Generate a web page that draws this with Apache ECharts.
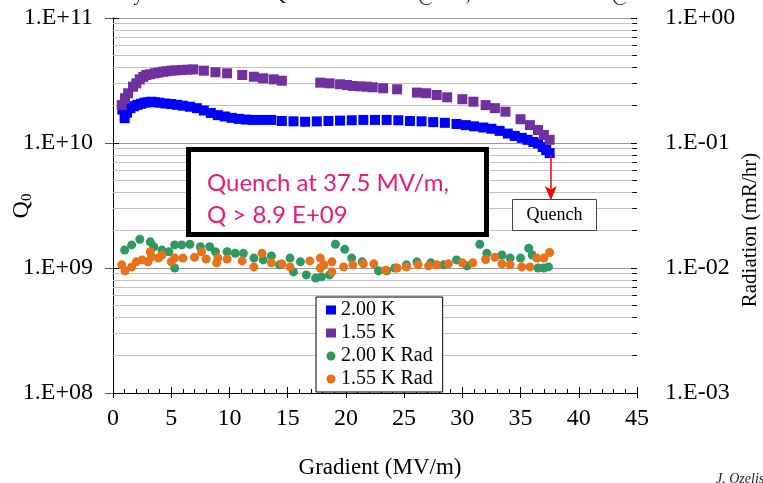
<!DOCTYPE html>
<html><head><meta charset="utf-8">
<script src="https://cdn.jsdelivr.net/npm/echarts@6/dist/echarts.min.js"></script>
<style>html,body{margin:0;padding:0;background:#fff}#c{width:763px;height:483px}</style>
</head><body><div id="c"></div>
<script>
// ---- data ----
const xTickValues = [0,5,10,15,20,25,30,35,40,45];
const leftTickLabels = {8:'1.E+08', 9:'1.E+09', 10:'1.E+10', 11:'1.E+11'};
const rightTickLabels = {'-3':'1.E-03', '-2':'1.E-02', '-1':'1.E-01', '0':'1.E+00'};

const g200 = [0.8,1.0,1.2,1.5,1.8,2.1,2.4,2.7,3.0,3.3,3.6,4.0,4.5,5.0,5.5,6.0,6.6,7.2,7.8,8.4,9.0,9.6,10.2,10.8,11.4,12.0,12.8,13.6,14.5,15.5,16.5,17.5,18.5,19.5,20.5,21.5,22.5,23.5,24.5,25.5,26.5,27.5,28.5,29.5,30.3,31.0,31.8,32.5,33.2,33.9,34.5,35.1,35.6,36.1,36.5,36.9,37.2,37.5];
const q200 = [1.85e10,1.58e10,1.75e10,1.90e10,1.97e10,2.02e10,2.06e10,2.10e10,2.12e10,2.14e10,2.12e10,2.10e10,2.07e10,2.05e10,2.02e10,1.99e10,1.95e10,1.90e10,1.82e10,1.74e10,1.67e10,1.63e10,1.59e10,1.56e10,1.54e10,1.53e10,1.53e10,1.53e10,1.50e10,1.49e10,1.48e10,1.49e10,1.50e10,1.51e10,1.52e10,1.53e10,1.53e10,1.53e10,1.52e10,1.50e10,1.49e10,1.47e10,1.45e10,1.42e10,1.39e10,1.36e10,1.33e10,1.30e10,1.25e10,1.19e10,1.14e10,1.10e10,1.06e10,1.02e10,0.99e10,0.93e10,0.88e10,0.83e10];

const g155 = [0.75,1.03,1.3,1.72,2.0,2.3,2.6,2.86,3.2,3.58,3.9,4.3,4.6,5.0,5.4,5.9,6.4,6.9,7.8,8.8,9.8,11.1,12.1,12.9,13.8,14.5,17.8,18.6,19.5,20.1,20.6,21.2,21.8,22.3,23.2,24.4,26.1,26.9,27.8,28.7,30.0,30.95,32.0,32.8,33.7,35.0,35.8,36.5,37.0,37.5];
const q155 = [2.01e10,2.28e10,2.50e10,2.82e10,3.00e10,3.23e10,3.38e10,3.50e10,3.55e10,3.61e10,3.66e10,3.72e10,3.75e10,3.79e10,3.81e10,3.84e10,3.86e10,3.88e10,3.79e10,3.68e10,3.61e10,3.50e10,3.39e10,3.29e10,3.23e10,3.15e10,3.04e10,3.00e10,2.95e10,2.91e10,2.86e10,2.84e10,2.82e10,2.79e10,2.74e10,2.69e10,2.53e10,2.50e10,2.42e10,2.32e10,2.24e10,2.14e10,2.01e10,1.90e10,1.78e10,1.55e10,1.39e10,1.27e10,1.16e10,1.06e10];

const g200Rad = [1.0,1.6,2.3,3.2,3.5,4.2,4.8,5.3,5.3,5.9,6.6,7.5,8.3,8.8,9.8,10.5,11.2,12.1,12.9,13.6,14.3,15.2,15.5,16.1,16.6,17.4,17.9,18.6,19.1,19.9,20.5,21.4,22.8,23.5,24.2,25.2,26.1,27.3,28.4,29.5,30.4,31.5,32.1,33.4,34.1,35.0,35.7,36.0,36.5,37.0,37.4];
const r200Rad = [1.39e-2,1.53e-2,1.70e-2,1.62e-2,1.48e-2,1.39e-2,1.35e-2,1.00e-2,1.53e-2,1.53e-2,1.55e-2,1.48e-2,1.48e-2,1.35e-2,1.35e-2,1.31e-2,1.31e-2,1.20e-2,1.16e-2,1.25e-2,1.06e-2,1.20e-2,0.93e-2,1.12e-2,0.88e-2,0.83e-2,0.85e-2,0.88e-2,1.55e-2,1.41e-2,1.20e-2,1.12e-2,0.95e-2,0.95e-2,1.00e-2,1.06e-2,1.12e-2,1.10e-2,1.06e-2,1.16e-2,1.04e-2,1.55e-2,1.31e-2,1.27e-2,1.20e-2,1.20e-2,1.44e-2,1.27e-2,1.00e-2,1.00e-2,1.02e-2];

const g155Rad = [0.75,1.03,1.6,2.0,2.5,3.0,3.2,3.3,3.9,4.2,5.0,5.3,6.0,7.0,7.6,8.0,8.9,9.0,9.8,11.1,12.1,12.8,13.6,14.5,15.2,16.9,17.8,17.8,18.1,18.8,18.8,19.8,20.6,21.5,22.4,23.4,24.4,25.2,26.2,27.1,27.8,28.8,30.0,30.9,32.0,32.8,33.4,34.1,35.1,35.8,36.4,37.0,37.5];
const r155Rad = [1.06e-2,0.95e-2,1.02e-2,1.12e-2,1.16e-2,1.12e-2,1.35e-2,1.23e-2,1.20e-2,1.27e-2,1.12e-2,1.20e-2,1.20e-2,1.22e-2,1.35e-2,1.18e-2,1.10e-2,1.20e-2,1.18e-2,1.14e-2,1.02e-2,1.31e-2,1.10e-2,1.08e-2,1.02e-2,1.14e-2,1.20e-2,1.00e-2,1.06e-2,1.12e-2,0.93e-2,1.02e-2,1.06e-2,1.08e-2,1.08e-2,0.96e-2,1.00e-2,1.02e-2,1.06e-2,1.04e-2,1.06e-2,1.08e-2,1.10e-2,1.10e-2,1.17e-2,1.22e-2,1.08e-2,1.06e-2,1.02e-2,1.02e-2,1.20e-2,1.20e-2,1.33e-2];

const minorGridQ = [2e8,3e8,4e8,5e8,6e8,7e8,8e8,9e8,2e9,3e9,4e9,5e9,6e9,7e9,8e9,9e9,2e10,3e10,4e10,5e10,6e10,7e10,8e10,9e10];
const minorTickR = [2e-3,3e-3,4e-3,5e-3,6e-3,7e-3,8e-3,9e-3,2e-2,3e-2,4e-2,5e-2,6e-2,7e-2,8e-2,9e-2,2e-1,3e-1,4e-1,5e-1,6e-1,7e-1,8e-1,9e-1];
const quenchArrow = [[37.6, 8.0e9],[37.6, 3.5e9]];
const seriesNames = ['2.00 K','1.55 K','2.00 K Rad','1.55 K Rad'];

// ---- chart ----
const pair = (xs, ys) => xs.map((x,i)=>[x, ys[i]]);
const serif = 'Liberation Serif';
const chart = echarts.init(document.getElementById('c'), null, {renderer:'canvas'});
const lg = v => Math.round(Math.log10(v));

chart.setOption({
  animation:false,
  backgroundColor:'#fff',
  grid:{left:113, right:126, top:18, bottom:90, show:false, containLabel:false, outerBoundsMode:'none'},
  legend:{
    orient:'vertical', left:316, top:297,
    backgroundColor:'#fff', borderColor:'#000', borderWidth:1, borderRadius:0,
    padding:[3,10,3,10], itemGap:3, itemWidth:10, itemHeight:9,
    textStyle:{fontFamily:serif, fontSize:20, color:'#000'},
    data:[{name:seriesNames[0], icon:'rect'},{name:seriesNames[1], icon:'rect'},{name:seriesNames[2], icon:'circle'},{name:seriesNames[3], icon:'circle'}]
  },
  xAxis:[
    {type:'value', min:0, max:45, interval:5,
     axisLine:{lineStyle:{color:'#000', width:1}},
     axisTick:{show:true, inside:false, length:5, lineStyle:{color:'#000'}},
     axisLabel:{fontFamily:serif, fontSize:24, color:'#000', margin:14},
     splitLine:{show:false}},
    {type:'value', min:0, max:45, interval:5, position:'bottom',
     axisLine:{show:false}, axisTick:{show:true, inside:true, length:6, lineStyle:{color:'#000'}},
     minorTick:{show:true, splitNumber:5, length:4, lineStyle:{color:'#000'}},
     axisLabel:{show:false}, splitLine:{show:false}}
  ],
  yAxis:[
    {type:'log', logBase:10, min:1e8, max:1e11, position:'left',
     axisLine:{show:true, lineStyle:{color:'#555'}},
     axisTick:{show:true, length:8, lineStyle:{color:'#555'}},
     axisLabel:{fontFamily:serif, fontSize:24, color:'#000', margin:20, formatter:v=>leftTickLabels[lg(v)]},
     splitLine:{show:true, lineStyle:{color:'#9a9a9a', width:1}}},
    {type:'log', logBase:10, min:1e-3, max:1, position:'right',
     axisLine:{show:true, lineStyle:{color:'#000'}},
     axisTick:{show:true, length:6, lineStyle:{color:'#000'}},
     axisLabel:{fontFamily:serif, fontSize:24, color:'#000', margin:28, formatter:v=>rightTickLabels[String(lg(v))]},
     splitLine:{show:false}},
    {type:'log', logBase:10, min:1e-3, max:1, position:'right',
     axisLine:{show:false},
     axisTick:{show:true, inside:true, length:6, lineStyle:{color:'#000'}},
     axisLabel:{show:false}, splitLine:{show:false}}
  ],
  series:[
    {name:seriesNames[0], type:'scatter', xAxisIndex:0, yAxisIndex:0, z:3,
     symbol:'rect', symbolSize:10, itemStyle:{color:'#0000FF', opacity:1},
     data:pair(g200, q200),
     markLine:{silent:true, symbol:['none','arrow'], symbolSize:[9,14], z:4,
       label:{show:false}, lineStyle:{color:'#FF0000', width:1.5, type:'solid'},
       data:[[{coord:quenchArrow[0]},{coord:quenchArrow[1]}]]}},
    {name:seriesNames[1], type:'scatter', xAxisIndex:0, yAxisIndex:0, z:3,
     symbol:'rect', symbolSize:10, itemStyle:{color:'#7030A0', opacity:1},
     data:pair(g155, q155),
     markLine:{silent:true, symbol:'none', z:1, label:{show:false},
       lineStyle:{color:'#c2c2c2', width:1, type:'solid'},
       data:minorGridQ.map(v=>({yAxis:v}))}},
    {name:seriesNames[2], type:'scatter', xAxisIndex:0, yAxisIndex:1, z:3,
     symbol:'circle', symbolSize:9, itemStyle:{color:'#2E9A62', opacity:1},
     data:pair(g200Rad, r200Rad),
     markLine:{silent:true, symbol:'none', z:2, label:{show:false},
       lineStyle:{color:'#000', width:1, type:'solid'},
       data:minorTickR.map(v=>[{coord:[44.6, v]},{coord:[45, v]}])}},
    {name:seriesNames[3], type:'scatter', xAxisIndex:0, yAxisIndex:1, z:3,
     symbol:'circle', symbolSize:9, itemStyle:{color:'#E8711A', opacity:1},
     data:pair(g155Rad, r155Rad)}
  ],
  graphic:[
    {type:'text', left:'center', top:-15, z:10,
     style:{text:'Cavity TB9ACC017 - Q0 and Radiation @ 2K, and 1.55 K Bath @ HTS', font:'20px "Liberation Serif"', fill:'#222'}},
    {type:'text', z:10, x:22, y:206, rotation:Math.PI/2,
     style:{text:'{q|Q}{s|0}', align:'center', verticalAlign:'middle',
       rich:{q:{font:'24px "Liberation Serif"', fill:'#000'}, s:{font:'15px "Liberation Serif"', fill:'#000', padding:[10,0,0,0]}}}},
    {type:'text', z:10, x:750, y:230, rotation:Math.PI/2,
     style:{text:'Radiation (mR/hr)', font:'21px "Liberation Serif"', fill:'#000', align:'center', verticalAlign:'middle'}},
    {type:'text', z:10, x:380, y:468,
     style:{text:'Gradient (MV/m)', font:'23px "Liberation Serif"', fill:'#000', align:'center', verticalAlign:'middle'}},
    {type:'rect', z:20, shape:{x:188.5, y:149.5, width:298, height:85},
     style:{fill:'#fff', stroke:'#000', lineWidth:5}},
    {type:'text', z:21, x:207, y:167,
     style:{text:'Quench at 37.5 MV/m,\nQ > 8.9 E+09', font:'24px Lato', fill:'#E8197A', lineHeight:32}},
    {type:'rect', z:20, shape:{x:512.5, y:199.5, width:84, height:31},
     style:{fill:'#fff', stroke:'#444', lineWidth:1}},
    {type:'text', z:21, x:554.5, y:215,
     style:{text:'Quench', font:'18px "Liberation Serif"', fill:'#000', align:'center', verticalAlign:'middle'}},
    {type:'text', z:21, x:716, y:472,
     style:{text:'J. Ozelis', font:'italic 14px "Liberation Serif"', fill:'#222'}}
  ]
});
</script></body></html>
